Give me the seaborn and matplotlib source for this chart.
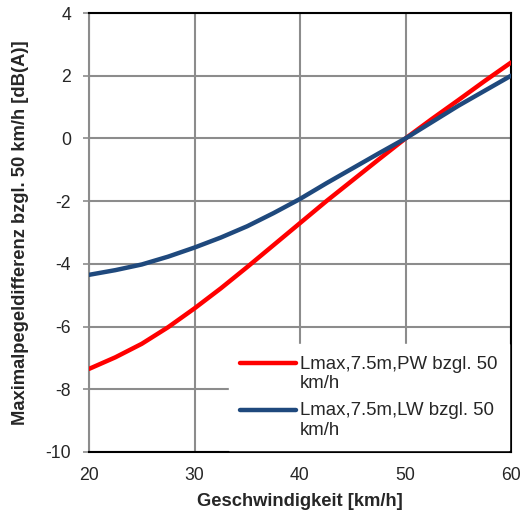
import matplotlib
matplotlib.use("Agg")
import matplotlib.pyplot as plt
from matplotlib.legend_handler import HandlerLine2D
import seaborn as sns
import pandas as pd

speed = [20, 22.5, 25, 27.5, 30, 32.5, 35, 37.5, 40, 42.5, 45, 47.5, 50, 52.5, 55, 57.5, 60]
pw_diff = [-7.35, -6.98, -6.55, -6.02, -5.42, -4.78, -4.1, -3.4, -2.7, -2.0, -1.33, -0.66, 0.0,
           0.62, 1.22, 1.83, 2.42]
lw_diff = [-4.35, -4.2, -4.02, -3.77, -3.48, -3.16, -2.8, -2.38, -1.93, -1.43, -0.95, -0.47, 0.0,
           0.52, 1.04, 1.52, 2.0]
series_names = ["Lmax,7.5m,PW bzgl. 50\nkm/h", "Lmax,7.5m,LW bzgl. 50\nkm/h"]
x_ticks = [20, 30, 40, 50, 60]
y_ticks = [-10, -8, -6, -4, -2, 0, 2, 4]

df = pd.concat([
    pd.DataFrame({"speed": speed, "diff": pw_diff, "series": series_names[0]}),
    pd.DataFrame({"speed": speed, "diff": lw_diff, "series": series_names[1]}),
])

sns.set_style("white")
plt.rcParams["font.family"] = ["Liberation Sans", "DejaVu Sans"]
plt.rcParams["axes.unicode_minus"] = False

fig = plt.figure(figsize=(5.21, 5.17), dpi=100)
ax = fig.add_axes([89/521, 1-452/517, (511-89)/521, (452-13)/517])

sns.lineplot(data=df, x="speed", y="diff", hue="series",
             palette=["#FF0000", "#1F497D"], linewidth=3.2, ax=ax,
             legend=True, zorder=3)

ax.set_xlim(20, 60)
ax.set_ylim(-10, 4)
ax.set_xticks(x_ticks)
ax.set_yticks(y_ticks)
ax.grid(True, color="#8C8C8C", linewidth=1.5)
ax.set_axisbelow(True)
for s in ["top", "right", "bottom"]:
    ax.spines[s].set_color("black")
    ax.spines[s].set_linewidth(1.5)
ax.spines["left"].set_color("#8C8C8C")
ax.spines["left"].set_linewidth(1.5)
ax.tick_params(axis="y", length=4, width=1.2, color="#8C8C8C", labelsize=12.7, pad=9, left=True)
ax.tick_params(axis="x", length=0, labelsize=12.7, pad=11)

ax.set_xlabel("Geschwindigkeit [km/h]", fontsize=13.2, fontweight="bold", labelpad=6)
ax.set_ylabel("Maximalpegeldifferenz bzgl. 50 km/h [dB(A)]", fontsize=13.2, fontweight="bold", labelpad=12)


class TopHandler(HandlerLine2D):
    def create_artists(self, legend, orig_handle, xdescent, ydescent, width, height, fontsize, trans):
        artists = super().create_artists(legend, orig_handle, xdescent, ydescent,
                                         width, height, fontsize, trans)
        for a in artists:
            if hasattr(a, "set_ydata"):
                a.set_ydata([y + 0.6 * fontsize for y in a.get_ydata()])
        return artists


handles, labels = ax.get_legend_handles_labels()
leg = ax.legend(handles, labels, loc="lower right", bbox_to_anchor=(0.995, 0.004),
                frameon=True, facecolor="white", edgecolor="white", framealpha=1,
                fancybox=False, fontsize=13.4, handlelength=3.0, handletextpad=0.22,
                labelspacing=0.55, borderpad=0.6, borderaxespad=0,
                handler_map={h: TopHandler() for h in handles})
for line in leg.get_lines():
    line.set_linewidth(3.2)
leg.set_zorder(5)

fig.savefig("out.png", dpi=100)
